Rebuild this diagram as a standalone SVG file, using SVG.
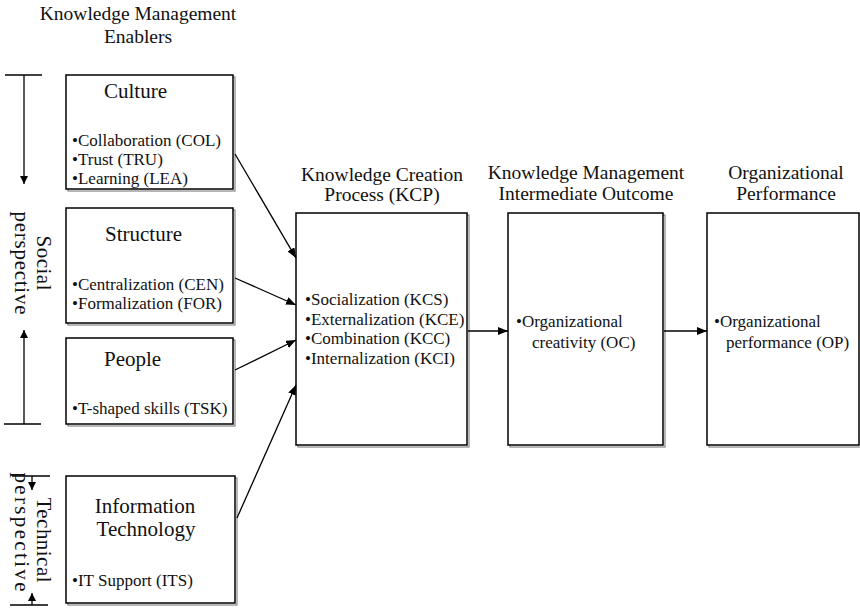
<svg xmlns="http://www.w3.org/2000/svg" width="860" height="608" viewBox="0 0 860 608" font-family="'Liberation Serif', 'Times New Roman', Times, 'DejaVu Serif', serif">
  <defs>
    <marker id="arrow" viewBox="0 0 10 8" refX="10" refY="4" markerWidth="10" markerHeight="8" markerUnits="userSpaceOnUse" orient="auto">
      <path d="M0,0 L10,4 L0,8 Z" fill="#000"/>
    </marker>
    <marker id="arrowSmall" viewBox="0 0 8 8" refX="8" refY="4" markerWidth="8" markerHeight="8" markerUnits="userSpaceOnUse" orient="auto">
      <path d="M0,0 L8,4 L0,8 Z" fill="#000"/>
    </marker>
  </defs>
  <style>
    text { fill: #111; }
    .head { font-size: 19.5px; text-anchor: middle; }
    .title { font-size: 21px; }
    .item { font-size: 17px; }
    .side { font-size: 21px; text-anchor: middle; }
    .box { fill: #fff; stroke: #000; stroke-width: 1.5; }
    .shadow { fill: none; stroke: #888; stroke-width: 1.2; }
    .line { fill: none; stroke: #000; stroke-width: 1.3; }
  </style>
  <rect width="860" height="608" fill="#fff"/>

  <!-- column headings -->
  <text class="head" x="138" y="20">Knowledge Management</text>
  <text class="head" x="138" y="43">Enablers</text>
  <text class="head" x="382" y="181">Knowledge Creation</text>
  <text class="head" x="382" y="201">Process (KCP)</text>
  <text class="head" x="586" y="179">Knowledge Management</text>
  <text class="head" x="586" y="200">Intermediate Outcome</text>
  <text class="head" x="786" y="179">Organizational</text>
  <text class="head" x="786" y="200">Performance</text>

  <!-- perspective brackets -->
  <g id="social-perspective">
    <line class="line" x1="5" y1="75" x2="42" y2="75"/>
    <line class="line" x1="24" y1="75" x2="24" y2="184" marker-end="url(#arrowSmall)"/>
    <line class="line" x1="4" y1="424" x2="41" y2="424"/>
    <line class="line" x1="24" y1="424" x2="24" y2="330" marker-end="url(#arrowSmall)"/>
    <text class="side" transform="translate(37,263) rotate(90)" textLength="55">Social</text>
    <text class="side" transform="translate(15,263) rotate(90)" textLength="103">perspective</text>
  </g>
  <g id="technical-perspective">
    <line class="line" x1="12" y1="476" x2="50" y2="476"/>
    <line class="line" x1="32" y1="476" x2="32" y2="490" marker-end="url(#arrowSmall)"/>
    <line class="line" x1="10" y1="605" x2="48" y2="605"/>
    <line class="line" x1="32" y1="605" x2="32" y2="593" marker-end="url(#arrowSmall)"/>
    <text class="side" transform="translate(37,540) rotate(90)" textLength="85">Technical</text>
    <text class="side" transform="translate(15,532) rotate(90)" textLength="119">perspective</text>
  </g>

  <!-- enabler boxes -->
  <g id="culture">
    <rect class="shadow" x="68" y="77" width="167" height="114"/>
    <rect class="box" x="66" y="75" width="167" height="114"/>
    <text class="title" x="104" y="98">Culture</text>
    <text class="item" x="72" y="146">•Collaboration (COL)</text>
    <text class="item" x="72" y="165">•Trust (TRU)</text>
    <text class="item" x="72" y="184">•Learning (LEA)</text>
  </g>
  <g id="structure">
    <rect class="shadow" x="68" y="210" width="167" height="115"/>
    <rect class="box" x="66" y="208" width="167" height="115"/>
    <text class="title" x="105" y="241">Structure</text>
    <text class="item" x="72" y="290">•Centralization (CEN)</text>
    <text class="item" x="72" y="309">•Formalization (FOR)</text>
  </g>
  <g id="people">
    <rect class="shadow" x="68" y="340" width="167" height="86"/>
    <rect class="box" x="66" y="338" width="167" height="86"/>
    <text class="title" x="104" y="366">People</text>
    <text class="item" x="72" y="414">•T-shaped skills (TSK)</text>
  </g>
  <g id="information-technology">
    <rect class="shadow" x="68" y="478" width="169" height="127"/>
    <rect class="box" x="66" y="476" width="169" height="127"/>
    <text class="title" x="145" y="513" text-anchor="middle">Information</text>
    <text class="title" x="146" y="536" text-anchor="middle">Technology</text>
    <text class="item" x="72" y="586">•IT Support (ITS)</text>
  </g>

  <!-- process and outcome boxes -->
  <g id="knowledge-creation-process">
    <rect class="shadow" x="298" y="215" width="171" height="232"/>
    <rect class="box" x="296" y="213" width="171" height="232"/>
    <text class="item" x="305" y="305">•Socialization (KCS)</text>
    <text class="item" x="305" y="325">•Externalization (KCE)</text>
    <text class="item" x="305" y="344">•Combination (KCC)</text>
    <text class="item" x="305" y="364">•Internalization (KCI)</text>
  </g>
  <g id="intermediate-outcome">
    <rect class="shadow" x="510" y="215" width="155" height="232"/>
    <rect class="box" x="508" y="213" width="155" height="232"/>
    <text class="item" x="516" y="327">•Organizational</text>
    <text class="item" x="532" y="348">creativity (OC)</text>
  </g>
  <g id="organizational-performance">
    <rect class="shadow" x="709" y="215" width="152" height="232"/>
    <rect class="box" x="707" y="213" width="152" height="232"/>
    <text class="item" x="714" y="327">•Organizational</text>
    <text class="item" x="726" y="348">performance (OP)</text>
  </g>

  <!-- connectors -->
  <g id="connectors">
    <line class="line" x1="235" y1="154" x2="296" y2="258" marker-end="url(#arrow)"/>
    <line class="line" x1="235" y1="278" x2="296" y2="305" marker-end="url(#arrow)"/>
    <line class="line" x1="235" y1="370" x2="296" y2="340" marker-end="url(#arrow)"/>
    <line class="line" x1="237" y1="518" x2="296" y2="385" marker-end="url(#arrow)"/>
    <line class="line" x1="468" y1="331" x2="508" y2="331" marker-end="url(#arrow)"/>
    <line class="line" x1="664" y1="331" x2="707" y2="331" marker-end="url(#arrow)"/>
  </g>
</svg>
